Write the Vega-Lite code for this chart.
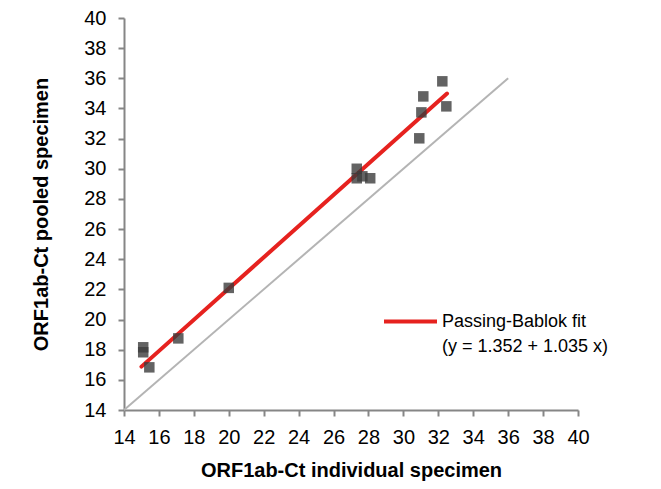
{
  "$schema": "https://vega.github.io/schema/vega-lite/v6.json",
  "width": 454,
  "height": 392,
  "autosize": {"type": "none"},
  "padding": {"left": 124, "top": 18, "right": 83, "bottom": 79},
  "background": "white",
  "config": {
    "view": {"stroke": null},
    "font": "Liberation Sans",
    "axis": {
      "grid": false,
      "domainColor": "#868686",
      "domainWidth": 2,
      "tickColor": "#868686",
      "tickWidth": 2,
      "tickSize": 6,
      "labelFont": "Liberation Sans",
      "labelFontSize": 20,
      "labelColor": "#000000",
      "labelOverlap": false,
      "labelFlush": false,
      "titleFont": "Liberation Sans",
      "titleFontSize": 20,
      "titleFontWeight": "bold",
      "titleColor": "#000000"
    }
  },
  "datasets": {
    "identity": [{"x": 14, "y": 14}, {"x": 36, "y": 36}],
    "fit": [{"x": 15, "y": 16.877}, {"x": 32.5, "y": 34.99}],
    "points": [
      {"x": 15.1, "y": 18.16},
      {"x": 15.1, "y": 17.83},
      {"x": 15.45, "y": 16.83},
      {"x": 17.11, "y": 18.75},
      {"x": 20.0, "y": 22.1},
      {"x": 27.33, "y": 30.0},
      {"x": 27.33, "y": 29.37},
      {"x": 27.65, "y": 29.5},
      {"x": 28.1, "y": 29.37},
      {"x": 30.91, "y": 32.02},
      {"x": 31.03, "y": 33.74},
      {"x": 31.14, "y": 34.8},
      {"x": 32.46, "y": 34.14},
      {"x": 32.23, "y": 35.8}
    ]
  },
  "encoding": {
    "x": {
      "field": "x", "type": "quantitative",
      "scale": {"domain": [14, 40], "nice": false, "zero": false},
      "axis": {"title": "ORF1ab-Ct individual specimen", "values": [14,16,18,20,22,24,26,28,30,32,34,36,38,40], "labelOverlap": false, "labelFlush": false, "labelPadding": 11, "titlePadding": 13}
    },
    "y": {
      "field": "y", "type": "quantitative",
      "scale": {"domain": [14, 40], "nice": false, "zero": false},
      "axis": {"title": "ORF1ab-Ct pooled specimen", "values": [14,16,18,20,22,24,26,28,30,32,34,36,38,40], "labelOverlap": false, "labelFlush": false, "labelPadding": 12, "titlePadding": 32}
    }
  },
  "layer": [
    {
      "data": {"name": "identity"},
      "mark": {"type": "line", "color": "#b4b4b4", "strokeWidth": 2}
    },
    {
      "data": {"name": "fit"},
      "mark": {"type": "line", "strokeWidth": 4, "strokeCap": "round"},
      "encoding": {
        "color": {
          "datum": "Passing-Bablok fit",
          "scale": {"range": ["#e6221f"]},
          "legend": {
            "title": null,
            "orient": "none",
            "legendX": 258,
            "legendY": 275,
            "symbolType": "stroke",
            "symbolSize": 2809,
            "symbolStrokeWidth": 4,
            "labelFont": "Liberation Sans",
            "labelFontSize": 18,
            "labelColor": "#000000",
            "labelOffset": 3,
            "labelLimit": 400,
            "labelExpr": "['Passing-Bablok fit', '(y = 1.352 + 1.035 x)']",
            "encode": {"labels": {"update": {"lineHeight": {"value": 25}}}}
          }
        }
      }
    },
    {
      "data": {"name": "points"},
      "mark": {"type": "square", "size": 110, "color": "#3c3c3c", "opacity": 0.8}
    }
  ]
}
